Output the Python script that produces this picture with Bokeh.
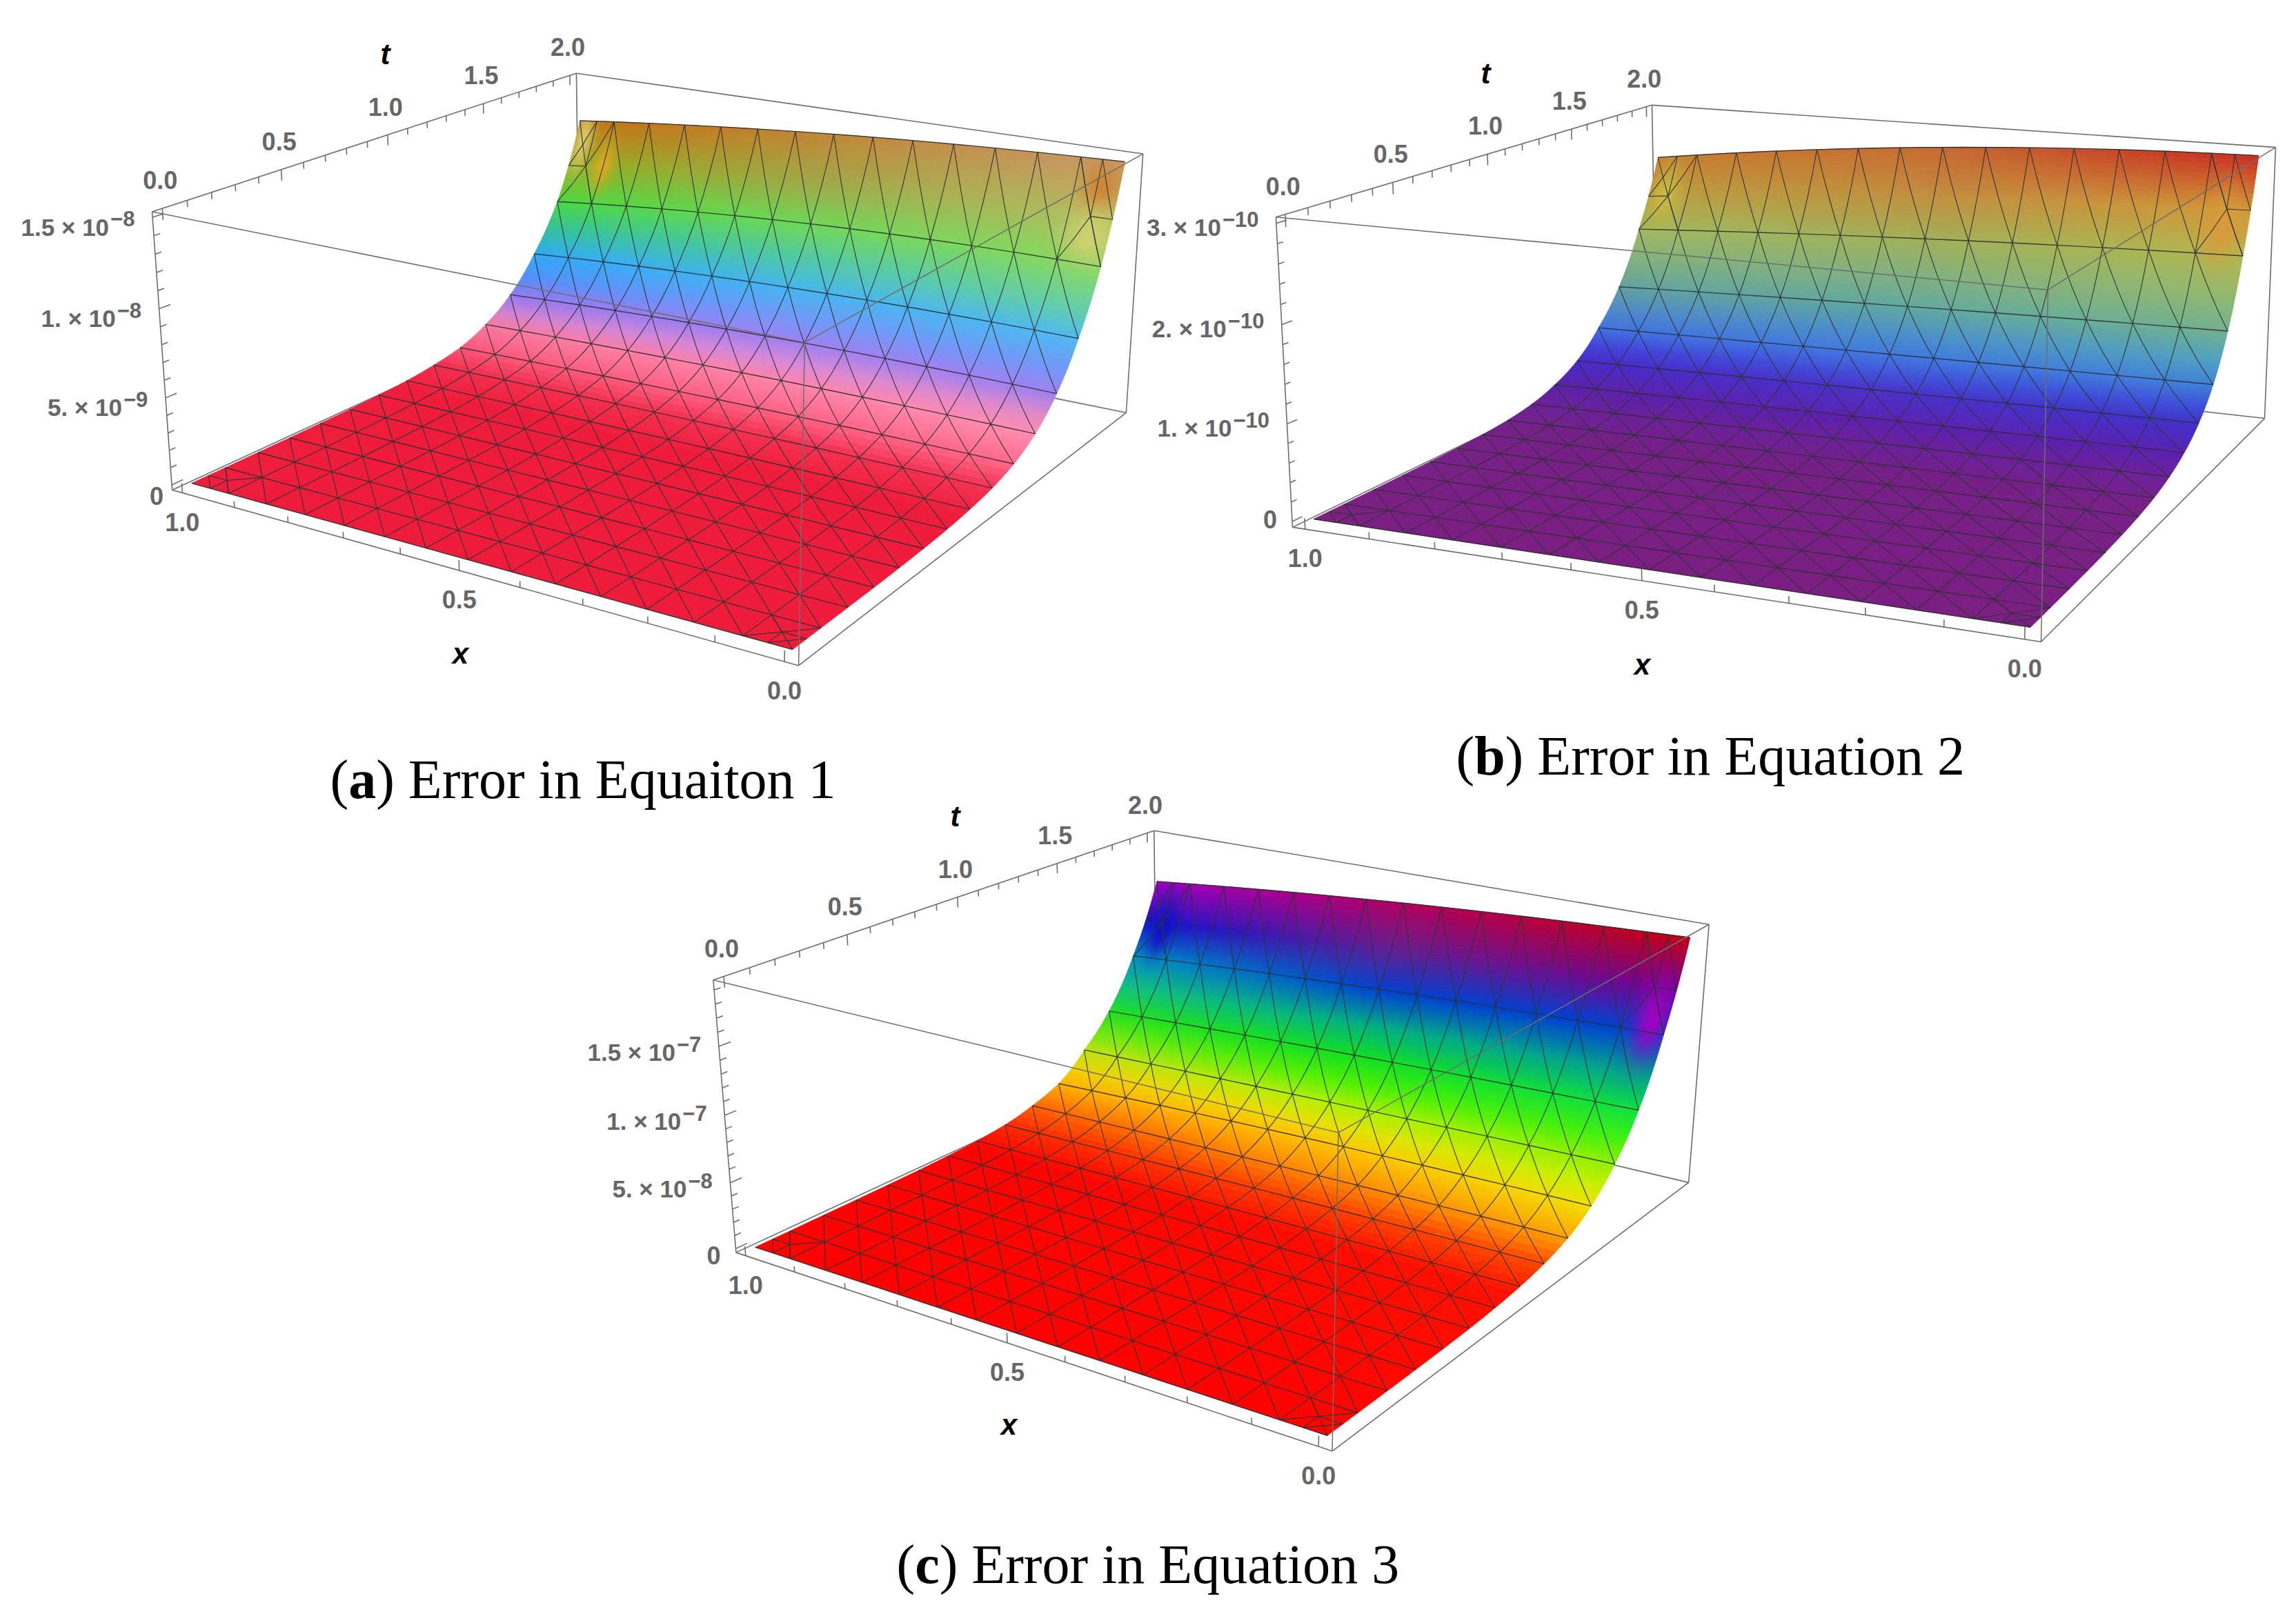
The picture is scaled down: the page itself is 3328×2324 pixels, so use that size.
import numpy as np
from bokeh.plotting import figure
from bokeh.models import Range1d
from bokeh.core.properties import value
from bokeh.embed import file_html
from bokeh.resources import INLINE

# ---------- data ----------
row_t = [2.0, 1.857, 1.714, 1.571, 1.429, 1.286, 1.143, 1.0, 0.857, 0.714, 0.571, 0.429, 0.286, 0.143, 0.0]
x_ticks_major = [0.0, 0.5, 1.0]
t_ticks_major = [0.0, 0.5, 1.0, 1.5, 2.0]

a_z_x1 = [1.24, .76, .476, .274, .151, .075, .04, .02, .01, .005, .0025, .001, .0005, .0002, 0]
a_z_xm = [1.40, .90, .57, .34, .19, .105, .06, .033, .018, .009, .0045, .002, .001, .0003, 0]
a_z_x0 = [1.49, .94, .59, .345, .195, .108, .06, .034, .018, .009, .0045, .002, .001, .0003, 0]
b_z_x1 = [2.44, 1.64, 1.03, .64, .36, .2, .1, .05, .025, .012, .006, .003, .0015, .0005, 0]
b_z_xm = [2.82, 1.83, 1.14, .70, .42, .25, .14, .08, .045, .025, .013, .007, .003, .001, 0]
b_z_x0 = [2.98, 1.95, 1.22, .75, .46, .28, .17, .1, .06, .035, .02, .01, .005, .002, 0]
c_z_x1 = [1.57, 1.01, .62, .38, .19, .105, .05, .025, .012, .006, .003, .0015, .0007, .0002, 0]
c_z_xm = [1.76, 1.15, .71, .43, .25, .135, .075, .04, .021, .01, .005, .0025, .0012, .0004, 0]
c_z_x0 = [1.88, 1.24, .77, .47, .27, .15, .085, .047, .025, .012, .006, .003, .0015, .0005, 0]

color_t = [0.0, 0.95, 1.143, 1.286, 1.429, 1.5, 1.571, 1.643, 1.714, 1.786, 1.857, 1.929, 2.0]
a_col_x1 = ['#ee1c3a', '#ee1c3a', '#f22c4c', '#fb5578', '#f878a0', '#d080d0', '#9478f0', '#5090f8', '#30a8f8', '#30c0a0', '#48d840', '#90b020', '#c47010']
a_col_xm = ['#ee1c3a', '#ee1c3a', '#f43050', '#ff5f82', '#ff82a8', '#d888d8', '#a080f0', '#7098f8', '#45b5f0', '#50c8a8', '#70d858', '#a0a848', '#c08838']
a_col_x0 = ['#ee1c3a', '#ee1c3a', '#f53050', '#ff6888', '#ff8cb0', '#e088c8', '#a080f0', '#7098f8', '#50b8f0', '#68d0a0', '#88d860', '#b0c060', '#c89868']
b_col_x1 = ['#7a1e82', '#741f86', '#6a2098', '#5a20a8', '#4828c8', '#4040d8', '#4070e0', '#5088c8', '#60a0a0', '#80b080', '#a0b860', '#b8a040', '#c88030']
b_col_xm = ['#7a1e82', '#741f86', '#6a2098', '#5a20b0', '#4830c8', '#4050d8', '#4078e0', '#4a90c8', '#60a8a0', '#80b080', '#a0b058', '#c09040', '#c86830']
b_col_x0 = ['#7a1e82', '#761f86', '#6c209a', '#5a20b0', '#4030c8', '#3c50d8', '#4080d8', '#50a0c0', '#70b090', '#90b870', '#b0b850', '#d09838', '#c92a20']
c_col_x1 = ['#ff0000', '#ff0000', '#ff2800', '#ff6000', '#ffb000', '#f0d000', '#c0e010', '#70e810', '#20e020', '#10c080', '#0090c0', '#1010d0', '#a000c0']
c_col_xm = ['#ff0000', '#ff0800', '#ff3c00', '#ff8000', '#ffc000', '#e8e000', '#b0f000', '#50f000', '#10e020', '#00b080', '#0040d0', '#602090', '#b00060']
c_col_x0 = ['#ff0000', '#ff1000', '#ff4800', '#ffa000', '#f0e000', '#c8f000', '#90f000', '#40f010', '#10e040', '#00a090', '#0040d0', '#700090', '#c00010']

panels = [
    dict(z_x1=a_z_x1, z_xm=a_z_xm, z_x0=a_z_x0, col_x1=a_col_x1, col_xm=a_col_xm, col_x0=a_col_x0,
         zmin=-0.03, zmax=1.53, zticks=[0, .5, 1.0, 1.5], zlabels=["0", "5. \u00d7 10", "1. \u00d7 10", "1.5 \u00d7 10"],
         zexp=[None, "\u22129", "\u22128", "\u22128"], zminor=0.1,
         anchors=[(220, 306), (835, 106), (1656, 222), (1166, 497), (249, 710), (1157, 964), (1632, 598)],
         spots=[(.985, 1.97, '#d8c868', .02, .05), (.93, 1.93, '#d8a820', .02, .04),
                (.03, 1.965, '#d08030', .03, .03), (.03, 1.90, '#cfd070', .04, .04)],
         tlab=(558, 78), xlab=(667, 947), cap=("(", "a", ") Error in Equaiton 1", 478, 1129), zoff=(-63, 14), zero=(-12, 16)),
    dict(z_x1=b_z_x1, z_xm=b_z_xm, z_x0=b_z_x0, col_x1=b_col_x1, col_xm=b_col_xm, col_x0=b_col_x0,
         zmin=-0.06, zmax=3.06, zticks=[0, 1, 2, 3], zlabels=["0", "1. \u00d7 10", "2. \u00d7 10", "3. \u00d7 10"],
         zexp=[None, "\u221210", "\u221210", "\u221210"], zminor=0.2,
         anchors=[(1849, 314), (2394, 152), (3298, 213), (2968, 420), (1873, 764), (2958, 930), (3282, 606)],
         spots=[(.97, 1.93, '#c8b840', .025, .05), (.04, 1.90, '#d89a38', .03, .05)],
         tlab=(2153, 106), xlab=(2380, 963), cap=("(", "b", ") Error in Equation 2", 2110, 1095), zoff=(-80, 6), zero=(-22, -3)),
    dict(z_x1=c_z_x1, z_xm=c_z_xm, z_x0=c_z_x0, col_x1=c_col_x1, col_xm=c_col_xm, col_x0=c_col_x0,
         zmin=-0.03, zmax=1.97, zticks=[0, .5, 1.0, 1.5], zlabels=["0", "5. \u00d7 10", "1. \u00d7 10", "1.5 \u00d7 10"],
         zexp=[None, "\u22128", "\u22127", "\u22127"], zminor=0.1,
         anchors=[(1033, 1419), (1673, 1205), (2475, 1336), (1941, 1646), (1066, 1815), (1930, 2101), (2448, 1716)],
         spots=[(.96, 1.92, '#1010c0', .022, .05), (.025, 1.88, '#a000c0', .025, .06)],
         tlab=(1384, 1183), xlab=(1462, 2065), cap=("(", "c", ") Error in Equation 3", 1299, 2267), zoff=(-63, 9), zero=(-22, 10)),
]

# ---------- figure ----------
W, H = 3320, 2316
p = figure(width=W, height=H, x_range=Range1d(0, W), y_range=Range1d(H, 0),
           output_backend="svg", toolbar_location=None, x_axis_location=None, y_axis_location=None,
           min_border=0, min_border_left=0, min_border_right=0, min_border_top=0, min_border_bottom=0)
p.grid.visible = False
p.outline_line_color = None

XR = (-0.02, 1.02)
TR = (-0.04, 2.04)
NX = 14
NT = len(row_t) - 1


def hex2rgb(h):
    return np.array([int(h[i:i + 2], 16) for i in (1, 3, 5)], float)


def rgb2hex(c):
    c = np.clip(np.round(c), 0, 255).astype(int)
    return "#%02x%02x%02x" % tuple(c)


def fit_camera(anchors):
    cube = [(1, 0, 1), (1, 1, 1), (0, 1, 1), (0, 0, 1), (1, 0, 0), (0, 0, 0), (0, 1, 0)]
    rows = []
    for (u, v, w), (sx, sy) in zip(cube, anchors):
        sx, sy = sx / 1000, sy / 1000
        X = [u, v, w, 1]
        rows.append(X + [0, 0, 0, 0] + [-sx * a for a in X])
        rows.append([0, 0, 0, 0] + X + [-sy * a for a in X])
    _, _, vt = np.linalg.svd(np.array(rows))
    return vt[-1].reshape(3, 4)


def draw_panel(P):
    cam = fit_camera(P["anchors"])
    zmin, zmax = P["zmin"], P["zmax"]

    def proj_n(u, v, w):
        u, v, w = np.asarray(u, float), np.asarray(v, float), np.asarray(w, float)
        X = np.stack(np.broadcast_arrays(u, v, w, np.ones_like(u)), axis=0)
        q = np.tensordot(cam, X, axes=(1, 0))
        return 1000 * q[0] / q[2], 1000 * q[1] / q[2]

    def proj(x, t, z):
        return proj_n((np.asarray(x, float) - XR[0]) / (XR[1] - XR[0]),
                      (np.asarray(t, float) - TR[0]) / (TR[1] - TR[0]),
                      (np.asarray(z, float) - zmin) / (zmax - zmin))

    rt = np.array(row_t)[::-1]
    cols = [np.array(P[k], float)[::-1] for k in ("z_x0", "z_xm", "z_x1")]

    def height(x, t):
        vals = [np.exp(np.interp(t, rt, np.log(c + 1e-4))) - 1e-4 for c in cols]
        l0 = 2 * (x - .5) * (x - 1)
        l1 = -4 * x * (x - 1)
        l2 = 2 * x * (x - .5)
        return l0 * vals[0] + l1 * vals[1] + l2 * vals[2]

    ct = np.array(color_t)
    ramps = {k: np.array([hex2rgb(c) for c in P[k]]) for k in ("col_x0", "col_xm", "col_x1")}

    def ramp(name, t):
        return np.array([np.interp(t, ct, ramps[name][:, i]) for i in range(3)])

    def colour(x, t):
        if x < .5:
            c = ramp("col_x0", t) * (1 - 2 * x) + ramp("col_xm", t) * 2 * x
        else:
            c = ramp("col_xm", t) * (2 - 2 * x) + ramp("col_x1", t) * (2 * x - 1)
        for sx, st, h, rx, rt_ in P["spots"]:
            w = np.exp(-((x - sx) / rx) ** 2 - ((t - st) / rt_) ** 2)
            c = c * (1 - w) + hex2rgb(h) * w
        return rgb2hex(c)

    def edge(a, b, **kw):
        p.line([a[0], b[0]], [a[1], b[1]], line_color="#6e6e6e", line_width=kw.get("w", 1.6))

    c3 = lambda u, v, w: tuple(float(a) for a in proj_n(u, v, w))
    edge(c3(1, 1, 1), c3(0, 1, 1))
    edge(c3(1, 1, 1), c3(1, 1, 0))
    edge(c3(0, 1, 1), c3(0, 1, 0))
    edge(c3(1, 1, 0), c3(0, 1, 0))
    edge(c3(1, 1, 0), c3(1, 0, 0))
    edge(c3(1, 0, 1), c3(1, 1, 1))
    edge(c3(1, 0, 1), c3(1, 0, 0))

    # surface
    tlist = []
    for j in range(NT):
        a, b = rt[j], rt[j + 1]
        n = 1 if j < 5 else (4 if j < 9 else 24)
        tlist += list(np.linspace(a, b, n, endpoint=False))
    tlist.append(2.0)
    xlist = np.concatenate([np.linspace(0, .1, 20, endpoint=False), np.linspace(.1, .9, 30, endpoint=False),
                            np.linspace(.9, 1, 21)])
    xs, ys, fc = [], [], []
    for i in range(len(xlist) - 1):
        for j in range(len(tlist) - 1):
            x0, x1 = xlist[i], xlist[i + 1]
            t0, t1 = tlist[j], tlist[j + 1]
            qx = [x0, x1, x1, x0]
            qt = [t0, t0, t1, t1]
            qz = [height(a, b) for a, b in zip(qx, qt)]
            sx, sy = proj(qx, qt, qz)
            xs.append(list(sx))
            ys.append(list(sy))
            fc.append(colour((x0 + x1) / 2, (t0 + t1) / 2))
    p.patches(xs, ys, fill_color=fc, line_color=fc, line_width=0.8)

    # mesh: constant-t rows, constant-x lines and one family of diagonals
    dx, dt = 1 / NX, 2 / NT
    mx, my = [], []
    rx_, ry_ = [], []

    def seg(xa, ta, xb, tb, n=5, rows=False):
        ss = np.linspace(0, 1, n)
        xx = xa + (xb - xa) * ss
        tt = ta + (tb - ta) * ss
        zz = [height(a, b) for a, b in zip(xx, tt)]
        sx, sy = proj(xx, tt, zz)
        (rx_ if rows else mx).append(list(sx))
        (ry_ if rows else my).append(list(sy))

    for j in range(NT + 1):
        seg(0, j * dt, 1, j * dt, 16, rows=True)
    for j in range(NT):
        for i in range(NX + 1):
            if 0 < i < NX:
                seg(i * dx, j * dt, i * dx, (j + 1) * dt)
            if i < NX:
                seg(i * dx, j * dt, (i + 1) * dx, (j + 1) * dt)
    for cx, sx_ in ((0, 1), (1, -1)):
        for ct_, st_ in ((0, 1), (2, -1)):
            for (a, b, c, d) in ((0, .5, .5, .5), (.5, 0, .5, .5), (.5, .5, 1, 1), (0, .5, .5, 0), (.5, .5, 1, 0), (0, 1, .5, .5)):
                seg(cx + sx_ * a * dx, ct_ + st_ * b * dt, cx + sx_ * c * dx, ct_ + st_ * d * dt, 3)
    p.multi_line(mx, my, line_color="#2c3434", line_width=1.2, line_alpha=0.9)
    p.multi_line(rx_, ry_, line_color="#2c3030", line_width=1.4, line_alpha=0.9)

    edge(c3(1, 0, 1), c3(0, 0, 1), w=1.5)
    edge(c3(0, 0, 1), c3(0, 1, 1), w=1.5)
    edge(c3(0, 0, 1), c3(0, 0, 0), w=1.5)
    edge(c3(1, 0, 0), c3(0, 0, 0))
    edge(c3(0, 0, 0), c3(0, 1, 0))

    # ticks
    tx, ty = [], []
    for k in range(0, 11):
        x = k / 10
        L = .036 if k % 5 == 0 else .022
        a = proj(x, TR[0], zmin)
        u = (x - XR[0]) / (XR[1] - XR[0])
        b = proj_n(u, 0, L)
        tx.append([float(a[0]), float(b[0])])
        ty.append([float(a[1]), float(b[1])])
    for k in range(0, 21):
        t = k / 10
        L = .04 if k % 5 == 0 else .024
        v = (t - TR[0]) / (TR[1] - TR[0])
        a = proj_n(1, v, 1)
        b = proj_n(1, v, 1 - L)
        tx.append([float(a[0]), float(b[0])])
        ty.append([float(a[1]), float(b[1])])
    step = P["zminor"]
    n = int(np.floor((zmax - 1e-9) / step))
    for k in range(0, n + 1):
        z = k * step
        L = .022 if k % 5 == 0 else .012
        w = (z - zmin) / (zmax - zmin)
        a = proj_n(1, 0, w)
        b = proj_n(1, L, w)
        tx.append([float(a[0]), float(b[0])])
        ty.append([float(a[1]), float(b[1])])
    p.multi_line(tx, ty, line_color="#6e6e6e", line_width=1.6)

    font = value("Liberation Sans")
    grey = "#666666"
    for v_ in x_ticks_major:
        a = proj(v_, TR[0], zmin)
        p.text([float(a[0])], [float(a[1]) + 42], text=["%.1f" % v_], text_font=font, text_font_style="bold",
               text_font_size="36px", text_color=grey, text_align="center", text_baseline="middle")
    for v_ in t_ticks_major:
        a = proj_n(1, (v_ - TR[0]) / (TR[1] - TR[0]), 1)
        p.text([float(a[0]) - 3], [float(a[1]) - 41], text=["%.1f" % v_], text_font=font, text_font_style="bold",
               text_font_size="36px", text_color=grey, text_align="center", text_baseline="middle")
    for z, lab, ex in zip(P["zticks"], P["zlabels"], P["zexp"]):
        a = proj_n(1, 0, (z - zmin) / (zmax - zmin))
        if ex is None:
            p.text([float(a[0]) + P["zero"][0]], [float(a[1]) + P["zero"][1]], text=[lab], text_font=font,
                   text_font_style="bold", text_font_size="36px", text_color=grey, text_align="right",
                   text_baseline="middle")
        else:
            ax, ay = float(a[0]) + P["zoff"][0], float(a[1]) + P["zoff"][1]
            p.text([ax], [ay], text=[lab], text_font=font, text_font_style="bold",
                   text_font_size="35px", text_color=grey, text_align="right", text_baseline="middle")
            p.text([ax + 2], [ay - 12], text=[ex], text_font=font, text_font_style="bold",
                   text_font_size="31px", text_color=grey, text_align="left", text_baseline="middle")
    for lab, pos in (("t", P["tlab"]), ("x", P["xlab"])):
        p.text([pos[0]], [pos[1]], text=[lab], text_font=font, text_font_style="bold italic",
               text_font_size="42px", text_color="#000000", text_align="center", text_baseline="middle")

    s = 80
    a1, a2, a3, cx_, cy_ = P["cap"]
    serif = value("Liberation Serif")
    p.text([cx_], [cy_], text=[a1], text_font=serif, text_font_size=f"{s}px", text_color="#000000", text_baseline="middle")
    p.text([cx_ + .333 * s], [cy_], text=[a2], text_font=serif, text_font_style="bold", text_font_size=f"{s}px",
           text_color="#000000", text_baseline="middle")
    adv = {"a": .833, "b": .889, "c": .777}[a2]
    p.text([cx_ + adv * s], [cy_], text=[a3], text_font=serif, text_font_size=f"{s}px", text_color="#000000",
           text_baseline="middle")


for P in panels:
    draw_panel(P)

open("out.html", "w").write(file_html(p, INLINE))
